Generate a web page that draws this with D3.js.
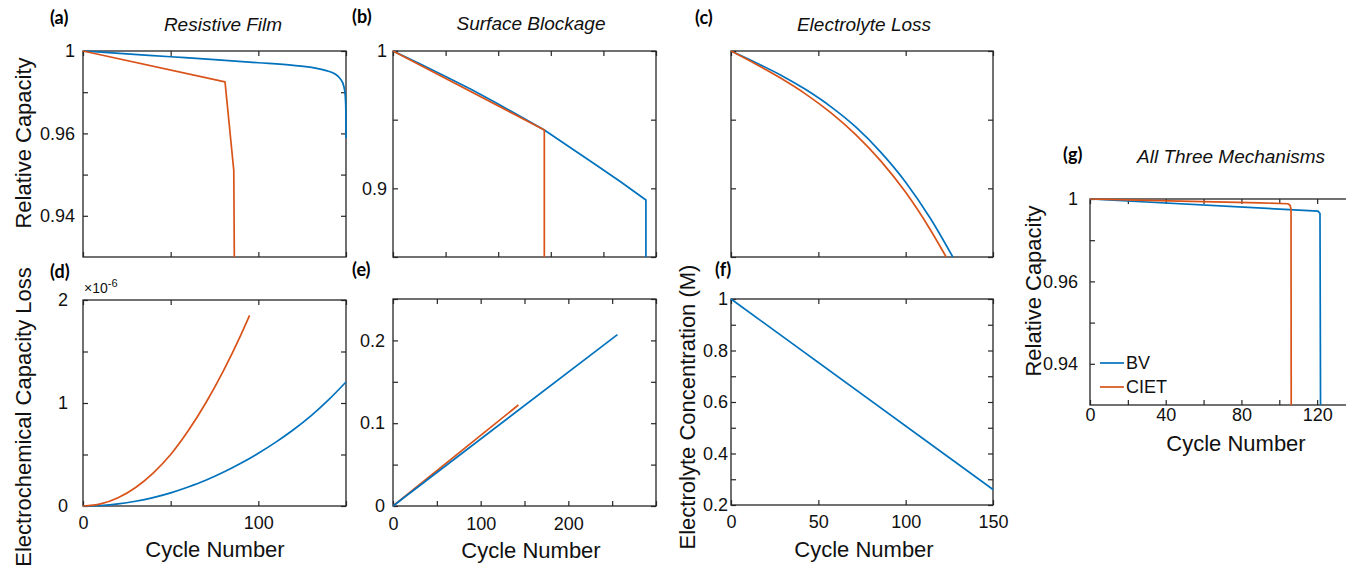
<!DOCTYPE html>
<html>
<head>
<meta charset="utf-8">
<script src="https://cdn.jsdelivr.net/npm/d3@7"></script>
<style>
  body { margin: 0; background: #fff; }
  svg  { display: block; font-family: "Liberation Sans", Arial, sans-serif; }
</style>
</head>
<body>
<svg id="fig" width="1346" height="571"></svg>
<script>
// ── Data ──────────────────────────────────────────────────────────────────────

// (a) Resistive Film: relative capacity
const filmCycleBV   = [0, 25, 50, 75, 100, 120, 132, 140, 144, 147, 148.7, 149.5, 149.9, 150];
const filmCapBV     = [1, 0.9986, 0.9972, 0.9958, 0.9943, 0.993, 0.9918, 0.9902, 0.9887, 0.9862, 0.983, 0.979, 0.972, 0.9588];
const filmCycleCIET = [0, 81, 86, 86.3];
const filmCapCIET   = [1, 0.985, 0.951, 0.93];

// (b) Surface Blockage: relative capacity
const surfCycleBV   = [0, 30, 60, 90, 120, 150, 172.6, 200, 230, 260, 288.5, 288.5];
const surfCapBV     = [1, 0.9909, 0.9815, 0.9717, 0.9614, 0.9506, 0.9425, 0.9307, 0.9177, 0.9046, 0.8915, 0.85];
const surfCycleCIET = [0, 172.6, 172.6];
const surfCapCIET   = [1, 0.9425, 0.85];

// (c) Electrolyte Loss: relative capacity
const elecCycleBV   = [0, 14.3, 28.6, 42.8, 57.1, 71.4, 85.7, 100, 114.2, 127];
const elecCapBV     = [1, 0.9915, 0.9824, 0.9719, 0.9595, 0.9447, 0.9264, 0.9045, 0.878, 0.85];
const elecCycleCIET = [0, 14.3, 28.6, 42.8, 57.1, 71.4, 85.7, 100, 114.2, 123.2];
const elecCapCIET   = [1, 0.9904, 0.9801, 0.9686, 0.9551, 0.9391, 0.92, 0.8971, 0.8697, 0.85];

// (d) Electrochemical capacity loss (x1e-6)
const ecCycleBV   = [0, 10, 20, 30, 40, 50, 60, 70, 80, 90, 100, 110, 120, 130, 140, 150];
const ecLossBV    = [0, 0.005, 0.02, 0.046, 0.082, 0.128, 0.185, 0.25, 0.327, 0.415, 0.512, 0.62, 0.74, 0.875, 1.03, 1.204];
const ecCycleCIET = [0, 10, 20, 30, 40, 50, 60, 70, 80, 90, 95];
const ecLossCIET  = [0, 0.02, 0.08, 0.18, 0.32, 0.5, 0.73, 1.0, 1.31, 1.66, 1.85];

// (e) Surface blockage capacity loss
const sbCycleBV   = [0, 256];
const sbLossBV    = [0, 0.207];
const sbCycleCIET = [0, 143];
const sbLossCIET  = [0, 0.122];

// (f) Electrolyte concentration (M)
const concCycle = [0, 150];
const concValue = [1, 0.26];

// (g) All three mechanisms
const allCycleBV   = [0, 120.5, 121.5, 121.8];
const allCapBV     = [1, 0.9941, 0.993, 0.93];
const allCycleCIET = [0, 30, 60, 90, 104.5, 105.7, 106.2, 106.3];
const allCapCIET   = [1, 0.9993, 0.9987, 0.9981, 0.9977, 0.997, 0.995, 0.93];

// Tick values and their labels ('' = unlabeled tick)
const capTicks      = [0.94, 0.95, 0.96, 0.98, 1];
const capLabels     = ['0.94', '', '0.96', '', '1'];
const cyc150Ticks   = [0, 50, 100, 150];
const cyc300Ticks   = [0, 50, 100, 150, 200, 250, 300];
const cyc300Labels  = ['0', '', '100', '', '200', '', ''];
const surfXTicks    = [0, 60, 120, 180, 240, 300];
const surfYTicks    = [0.85, 0.9, 0.95, 1];
const surfYLabels   = ['', '0.9', '', '1'];
const ecYTicks      = [0, 0.5, 1, 1.5, 2];
const ecYLabels     = ['0', '', '1', '', '2'];
const ecXLabels     = ['0', '', '100', ''];
const sbYTicks      = [0, 0.05, 0.1, 0.15, 0.2, 0.25];
const sbYLabels     = ['0', '', '0.1', '', '0.2', ''];
const concYTicks    = [0.2, 0.3, 0.4, 0.5, 0.6, 0.7, 0.8, 0.9, 1];
const concYLabels   = ['0.2', '', '0.4', '', '0.6', '', '0.8', '', '1'];
const concXLabels   = ['0', '50', '100', '150'];
const allXTicks     = [0, 20, 40, 60, 80, 100, 120, 140];
const allXLabels    = ['0', '', '40', '', '80', '', '120', ''];

const seriesNames = ['BV', 'CIET'];

// ── Drawing ───────────────────────────────────────────────────────────────────

const BLUE   = '#0072BD';
const ORANGE = '#D95319';
const AXIS   = '#262626';
const FONT   = '"Liberation Sans", Arial, sans-serif';

const svg = d3.select('#fig');

function labeler(ticks, labels) {
  if (!labels) return () => '';
  return v => { const i = ticks.indexOf(v); return i < 0 ? '' : labels[i]; };
}

function drawPanel(p) {
  const g = svg.append('g');
  const x = d3.scaleLinear().domain(p.xDomain).range([p.x0, p.x1]);
  const h = p.y1 - p.y0;
  const frac = p.yFrac || [0, 1];
  const y = d3.scaleLinear().domain(p.yDomain).range(frac.map(f => p.y1 - f * h));

  // box
  g.append('rect')
    .attr('x', p.x0).attr('y', p.y0)
    .attr('width', p.x1 - p.x0).attr('height', h)
    .attr('fill', 'none').attr('stroke', AXIS).attr('stroke-width', 1.3);

  const styleAxis = sel => {
    sel.select('.domain').remove();
    sel.attr('font-family', FONT).attr('font-size', 18).attr('color', AXIS);
    sel.selectAll('.tick line').attr('stroke-width', 1.2);
    sel.selectAll('.tick text').attr('fill', '#111');
  };

  g.append('g').attr('transform', `translate(0,${p.y1})`)
    .call(d3.axisBottom(x).tickValues(p.xTicks).tickSize(-5).tickSizeOuter(0)
      .tickPadding(p.xPad || 10).tickFormat(labeler(p.xTicks, p.xLabels)))
    .call(styleAxis);
  g.append('g').attr('transform', `translate(0,${p.y0})`)
    .call(d3.axisTop(x).tickValues(p.xTicks).tickSize(-5).tickSizeOuter(0).tickFormat(''))
    .call(styleAxis);
  g.append('g').attr('transform', `translate(${p.x0},0)`)
    .call(d3.axisLeft(y).tickValues(p.yTicks).tickSize(-5).tickSizeOuter(0)
      .tickPadding(p.yPad || 8).tickFormat(labeler(p.yTicks, p.yLabels)))
    .call(styleAxis);
  g.append('g').attr('transform', `translate(${p.x1},0)`)
    .call(d3.axisRight(y).tickValues(p.yTicks).tickSize(-5).tickSizeOuter(0).tickFormat(''))
    .call(styleAxis);

  // series
  p.series.forEach(s => {
    const line = d3.line().x(d => x(d[0])).y(d => y(d[1]))
      .curve(s.smooth ? d3.curveMonotoneX : d3.curveLinear);
    g.append('path')
      .datum(d3.zip(s.xs, s.ys))
      .attr('d', line)
      .attr('fill', 'none')
      .attr('stroke', s.color)
      .attr('stroke-width', 1.7)
      .attr('stroke-linejoin', 'round');
  });

  // panel letter
  g.append('text')
    .attr('x', p.letterPos[0]).attr('y', p.letterPos[1])
    .attr('font-family', 'Lato, "Open Sans", sans-serif')
    .attr('font-weight', 700).attr('font-size', 18)
    .text(p.letter);

  if (p.title) {
    g.append('text')
      .attr('x', p.titlePos[0]).attr('y', p.titlePos[1])
      .attr('text-anchor', 'middle').attr('font-style', 'italic')
      .attr('font-size', 19).attr('fill', '#111')
      .text(p.title);
  }
  if (p.xTitle) {
    g.append('text')
      .attr('x', p.xTitlePos[0]).attr('y', p.xTitlePos[1])
      .attr('text-anchor', 'middle').attr('font-size', 22).attr('fill', '#111')
      .text(p.xTitle);
  }
  if (p.yTitle) {
    g.append('text')
      .attr('transform', `translate(${p.yTitlePos[0]},${p.yTitlePos[1]}) rotate(-90)`)
      .attr('text-anchor', 'middle').attr('dominant-baseline', 'central')
      .attr('font-size', 22).attr('fill', '#111')
      .text(p.yTitle);
  }
  return { g, x, y };
}

// (a)
drawPanel({
  x0: 83, x1: 346, y0: 51, y1: 257,
  xDomain: [0, 150], yDomain: [0.93, 0.94, 0.96, 1], yFrac: [0, 0.2, 0.6, 1],
  xTicks: cyc150Ticks, yTicks: capTicks, yLabels: capLabels, yPad: 8,
  series: [
    { xs: filmCycleBV, ys: filmCapBV, color: BLUE, smooth: true },
    { xs: filmCycleCIET, ys: filmCapCIET, color: ORANGE }
  ],
  letter: '(a)', letterPos: [50, 24],
  title: 'Resistive Film', titlePos: [223, 31],
  yTitle: 'Relative Capacity', yTitlePos: [23, 143]
});

// (b)
drawPanel({
  x0: 393, x1: 656, y0: 51, y1: 257,
  xDomain: [0, 300], yDomain: [0.85, 1],
  xTicks: surfXTicks, yTicks: surfYTicks, yLabels: surfYLabels, yPad: 6,
  series: [
    { xs: surfCycleBV, ys: surfCapBV, color: BLUE },
    { xs: surfCycleCIET, ys: surfCapCIET, color: ORANGE }
  ],
  letter: '(b)', letterPos: [352, 23],
  title: 'Surface Blockage', titlePos: [531, 30]
});

// (c)
drawPanel({
  x0: 731, x1: 993, y0: 51, y1: 257,
  xDomain: [0, 150], yDomain: [0.85, 1],
  xTicks: cyc150Ticks, yTicks: surfYTicks,
  series: [
    { xs: elecCycleBV, ys: elecCapBV, color: BLUE, smooth: true },
    { xs: elecCycleCIET, ys: elecCapCIET, color: ORANGE, smooth: true }
  ],
  letter: '(c)', letterPos: [695, 24],
  title: 'Electrolyte Loss', titlePos: [864, 31]
});

// (d)
const pd = drawPanel({
  x0: 83, x1: 346, y0: 300, y1: 506,
  xDomain: [0, 150], yDomain: [0, 2],
  xTicks: cyc150Ticks, xLabels: ecXLabels, xPad: 10,
  yTicks: ecYTicks, yLabels: ecYLabels, yPad: 15,
  series: [
    { xs: ecCycleBV, ys: ecLossBV, color: BLUE, smooth: true },
    { xs: ecCycleCIET, ys: ecLossCIET, color: ORANGE, smooth: true }
  ],
  letter: '(d)', letterPos: [50, 278],
  xTitle: 'Cycle Number', xTitlePos: [215, 557],
  yTitle: 'Electrochemical Capacity Loss', yTitlePos: [23, 417]
});
const expo = pd.g.append('text').attr('x', 84).attr('y', 293).attr('font-size', 14).attr('fill', '#111');
expo.append('tspan').text('\u00d710');
expo.append('tspan').attr('dy', -6).attr('font-size', 11).text('-6');

// (e)
drawPanel({
  x0: 393, x1: 656, y0: 299, y1: 506,
  xDomain: [0, 300], yDomain: [0, 0.25],
  xTicks: cyc300Ticks, xLabels: cyc300Labels, xPad: 11,
  yTicks: sbYTicks, yLabels: sbYLabels, yPad: 8,
  series: [
    { xs: sbCycleCIET, ys: sbLossCIET, color: ORANGE },
    { xs: sbCycleBV, ys: sbLossBV, color: BLUE }
  ],
  letter: '(e)', letterPos: [352, 276],
  xTitle: 'Cycle Number', xTitlePos: [531, 558]
});

// (f)
drawPanel({
  x0: 731, x1: 993, y0: 299, y1: 505,
  xDomain: [0, 150], yDomain: [0.2, 1],
  xTicks: cyc150Ticks, xLabels: concXLabels, xPad: 10,
  yTicks: concYTicks, yLabels: concYLabels, yPad: 3,
  series: [
    { xs: concCycle, ys: concValue, color: BLUE }
  ],
  letter: '(f)', letterPos: [715, 276],
  xTitle: 'Cycle Number', xTitlePos: [864, 557],
  yTitle: 'Electrolyte Concentration (M)', yTitlePos: [687, 407]
});

// (g) — right edge of the axes falls just outside the canvas
const pg = drawPanel({
  x0: 1090, x1: 1355, y0: 199, y1: 405,
  xDomain: [0, 140], yDomain: [0.93, 0.94, 0.96, 1], yFrac: [0, 0.2, 0.6, 1],
  xTicks: allXTicks, xLabels: allXLabels, xPad: 3,
  yTicks: capTicks, yLabels: capLabels, yPad: 12,
  series: [
    { xs: allCycleBV, ys: allCapBV, color: BLUE },
    { xs: allCycleCIET, ys: allCapCIET, color: ORANGE }
  ],
  letter: '(g)', letterPos: [1063, 161],
  title: 'All Three Mechanisms', titlePos: [1231, 163],
  xTitle: 'Cycle Number', xTitlePos: [1236, 451],
  yTitle: 'Relative Capacity', yTitlePos: [1033, 291]
});

// legend (g)
const legend = pg.g.append('g');
[BLUE, ORANGE].forEach((c, i) => {
  const ly = 363 + i * 24;
  legend.append('line').attr('x1', 1100).attr('x2', 1124).attr('y1', ly).attr('y2', ly)
    .attr('stroke', c).attr('stroke-width', 1.7);
  legend.append('text').attr('x', 1126).attr('y', ly)
    .attr('dominant-baseline', 'central').attr('font-size', 18).attr('fill', '#111')
    .text(seriesNames[i]);
});
</script>
</body>
</html>
